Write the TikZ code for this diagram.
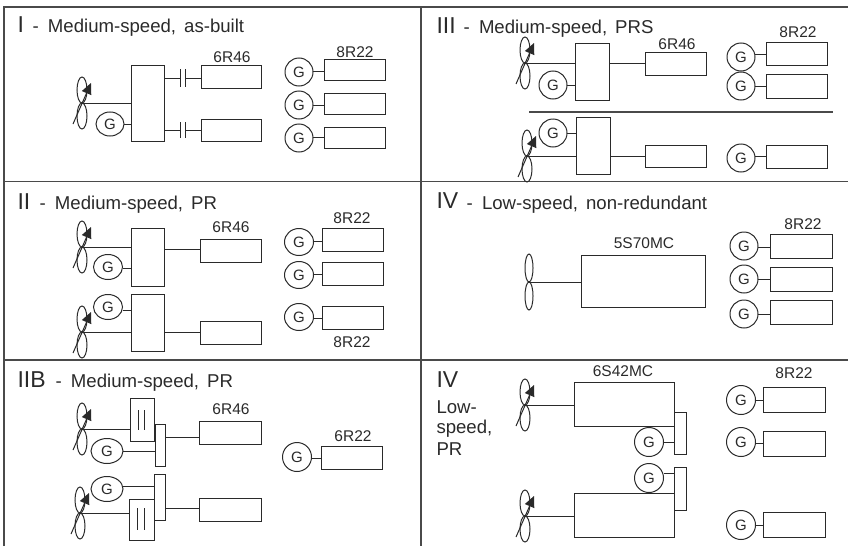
\documentclass[tikz,border=0pt]{standalone}
\usepackage{fontspec}
\setmainfont{Liberation Sans}
\newfontfamily\titlefamily[WordSpace=1.55]{Liberation Sans}
\usetikzlibrary{arrows.meta, shapes.geometric}
\definecolor{cline}{HTML}{2A2A2A}
\definecolor{cframe}{HTML}{4A4A4A}
\tikzset{
  every picture/.style={line width=1pt, x=1pt, y=-1pt},
  wire/.style={draw=cline, line width=1pt},
  frameline/.style={draw=cframe, line width=1.3pt},
  box/.style={draw=cline, rectangle, inner sep=0pt, outer sep=0pt},
  gen/.style={draw=cline, ellipse, inner sep=0pt, outer sep=0pt, text=cline, font=\fontsize{15}{15}\selectfont},
  lab/.style={anchor=base, inner sep=0pt, text=cline, font=\fontsize{15.5}{16}\selectfont},
  numeral/.style={anchor=base west, inner sep=0pt, text=cline, font=\fontsize{23}{24}\selectfont},
  title/.style={anchor=base west, inner sep=0pt, text=cline, font=\fontsize{18.6}{20}\titlefamily},
  pitch/.style={wire, -{Stealth[length=11pt, width=10pt, inset=0pt]}},
  prop/.pic={
    \coordinate (-hub) at (0,0);
    \draw[wire] (0,-13) ellipse (5 and 13);
    \draw[wire] (0,13) ellipse (5 and 13);
    \draw[pitch] (-9,21) -- (9,-20);
  },
  fixedprop/.pic={
    \coordinate (-hub) at (0,0);
    \draw[wire] (0,-14) ellipse (4 and 14);
    \draw[wire] (0,14) ellipse (4 and 14);
  },
}
\begin{document}
\begin{tikzpicture}
  \useasboundingbox (0,0) rectangle (848,546);
  % panel grid
  \draw[frameline] (4,546) -- (4,7) -- (848,7);
  \draw[frameline] (421,7) -- (421,546);
  \draw[frameline] (4,181.5) -- (848,181.5);
  \draw[frameline] (4,360) -- (848,360);
  % titles
  \foreach \n/\x/\y/\t in {nI/17/32/I, nIII/436/33/III, nII/17/209/II, nIV/436/208/IV, nB/17/387/IIB, nV/436/387/IV} {
    \node[numeral] (\n) at (\x,\y) {\t};
  }
  \foreach \n/\x/\y/\t in {tI/32/32/{Medium-speed, as-built}, tIII/463/33/{Medium-speed, PRS}, tII/39/209/{Medium-speed, PR}, tIV/466/209/{Low-speed, non-redundant}, tB/55/387/{Medium-speed, PR}} {
    \node[title] (\n) at (\x,\y) {-\enskip\t};
  }
  \foreach \n/\y/\t in {tVa/413/Low-, tVb/433/{speed,}, tVc/455/PR} {
    \node[title] (\n) at (436,\y) {\t};
  }
  % engine labels
  \foreach \n/\x/\y/\t in {lIa/232/62/6R46, lIb/355/57/8R22, lIIIa/677/49/6R46, lIIIb/798/37/8R22, lIIa/231/232/6R46, lIIb/352/223/8R22, lIIc/352/347/8R22, lIVa/644/248/5S70MC, lIVb/803/229/8R22, lBa/231/414/6R46, lBb/353/441/6R22, lVa/623/376/6S42MC, lVb/794/378/8R22} {
    \node[lab] (\n) at (\x,\y) {\t};
  }
  % boxes: name/left/right/top/bottom
  \foreach \n/\l/\r/\t/\b in {
    bI/131/164/65/141, eIa/201/261/65/88, eIb/201/261/119/141, dIa/324/385/59/80, dIb/324/385/93/114, dIc/324/385/127/148,
    bIIIa/575/609/43/100, bIIIb/576/610/117/174, eIIIa/645/706/52/75, eIIIb/645/706/145/167, dIIIa/766/827/42/65, dIIIb/766/827/74/98, dIIIc/766/827/145/168,
    bIIa/131/164/228/286, bIIb/131/164/294/351, eIIa/200/261/239/262, eIIb/200/261/321/344, dIIa/322/383/228/251, dIIb/322/383/262/285, dIIc/322/383/306/329,
    eIV/581/705/255/307, dIVa/770/832/234/258, dIVb/770/832/267/291, dIVc/770/832/300/324,
    rBa/130/154/398/441, rBb/129/154/499/540, sBa/155/165/424/466, sBb/154/165/474/520, eBa/199/261/421/444, eBb/199/261/498/521, dB/321/382/446/469,
    eVa/574/674/382/426, eVb/574/674/493/537, sVa/674/686/412/454, sVb/674/686/467/510, dVa/763/825/387/412, dVb/763/825/431/456, dVc/763/825/512/537} {
    \node[box, minimum width={\r-\l}, minimum height={\b-\t}] (\n) at ({(\l+\r)/2},{(\t+\b)/2}) {};
  }
  % generators: name/x/y/width/height
  \foreach \n/\x/\y/\w/\h in {
    gIp/110/124/28/24, gIa/299/72/28/28, gIb/299/105/28/28, gIc/299/138/28/28,
    gIIIp/553/85/28/28, gIIIq/553/133/28/28, gIIIa/741/57/28/28, gIIIb/741/86/28/28, gIIIc/741/158/28/28,
    gIIp/108/267/29/25, gIIq/108/307/29/25, gIIa/299/242/29/27, gIIb/299/275/29/27, gIIc/299/317/29/27,
    gIVa/744/246/28/28, gIVb/744/279/28/28, gIVc/744/314/28/28,
    gBp/107/451/32/25, gBq/107/489/32/25, gBa/297/457/29/29,
    gVp/649/442/29/29, gVq/649/478/29/29, gVa/741/400/29/29, gVb/741/442/29/29, gVc/741/525/29/29} {
    \node[gen, minimum width=\w, minimum height=\h] (\n) at (\x,\y) {G};
  }
  % propellers
  \foreach \n/\x/\y in {pI/82/103, pIIIa/525/63, pIIIb/527/156, pIIa/82/247, pIIb/82/332, pBa/82/429, pBb/80/513, pVa/525/405, pVb/525/516} {
    \pic (\n) at (\x,\y) {prop};
  }
  \pic (pIV) at (529,282) {fixedprop};
  \foreach \p/\b in {pI/bI, pIIIa/bIIIa, pIIIb/bIIIb, pIIa/bIIa, pIIb/bIIb, pIV/eIV, pBa/rBa, pBb/rBb, pVa/eVa, pVb/eVb} {
    \draw[wire] (\p-hub) -- (\p-hub -| \b.west);
  }
  % shafts
  \foreach \a/\b/\y in {
    gIp/bI/124, gIa/dIa/71, gIb/dIb/105, gIc/dIc/137,
    gIIIp/bIIIa/85, gIIIq/bIIIb/133, bIIIa/eIIIa/63, bIIIb/eIIIb/156, gIIIa/dIIIa/54, gIIIb/dIIIb/86, gIIIc/dIIIc/156,
    gIIp/bIIa/268, gIIq/bIIb/310, bIIa/eIIa/249, bIIb/eIIb/332, gIIa/dIIa/241, gIIb/dIIb/274, gIIc/dIIc/318,
    gIVa/dIVa/247, gIVb/dIVb/279, gIVc/dIVc/314,
    gBp/sBa/451, gBq/sBb/486, sBa/eBa/437, sBb/eBb/508, gBa/dB/458,
    gVp/sVa/442, gVq/sVb/473, gVa/dVa/400, gVb/dVb/443, gVc/dVc/525} {
    \draw[wire] (\a.east |- 0,\y) -- (\b.west |- 0,\y);
  }
  % clutches
  \foreach \n/\y/\h/\e in {a/78/9/eIa, b/130/8/eIb} {
    \coordinate (cl\n) at (180,\y);
    \coordinate (cr\n) at (185,\y);
    \draw[wire] (bI.east |- cl\n) -- (cl\n);
    \draw[wire] (cr\n) -- (cr\n -| \e.west);
    \draw[wire] (180,\y-\h) -- (180,\y+\h);
    \draw[wire] (185,\y-\h) -- (185,\y+\h);
  }
  % reducer marks
  \foreach \x/\t/\b in {138/410/430, 144/410/430, 137/508/530, 144/508/530} {
    \draw[wire] (\x,\t) -- (\x,\b);
  }
  % separator in panel III
  \draw[frameline] (529,112) -- (833,112);
\end{tikzpicture}
\end{document}
